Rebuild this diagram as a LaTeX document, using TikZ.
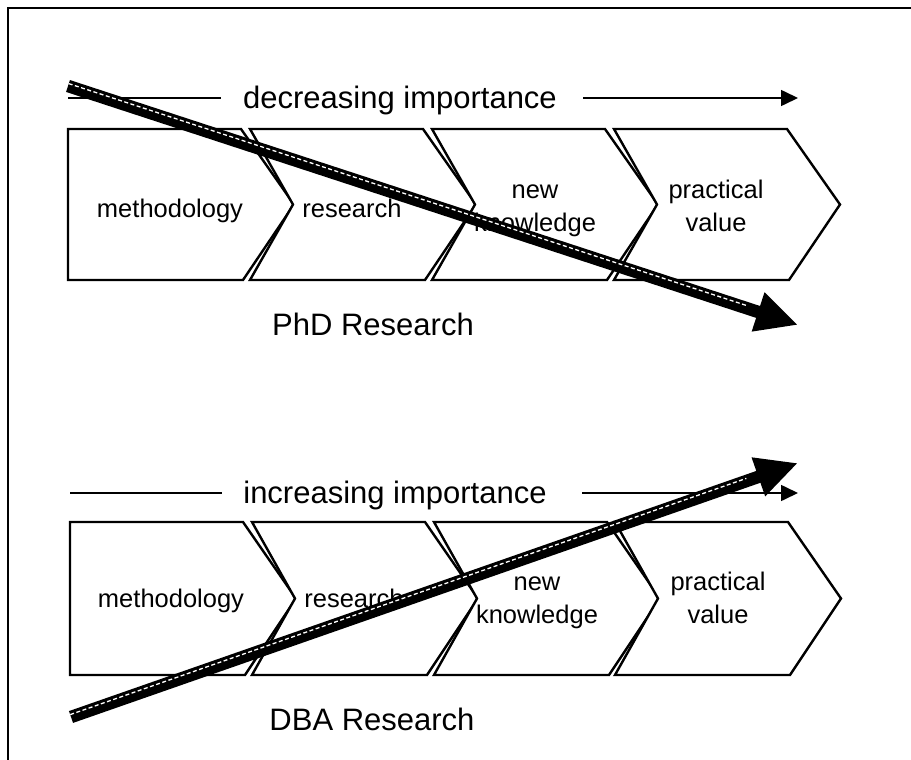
\documentclass[tikz,border=0pt]{standalone}
\usepackage{fontspec}
\setmainfont{Liberation Sans}
\usetikzlibrary{arrows.meta,calc}

\tikzset{
  frameline/.style={line width=2pt},
  chev/.style={draw=black, fill=white, line width=2.4pt, line join=miter},
  boxlabel/.style={font=\fontsize{25.5}{32.5}\selectfont, align=center, inner sep=0pt},
  heading/.style={font=\fontsize{31}{36}\selectfont, inner sep=0pt, anchor=base},
  caption/.style={font=\fontsize{31}{36}\selectfont, inner sep=0pt, anchor=base},
  guide/.style={line width=1.6pt},
  guidetip/.style={-{Triangle[length=17pt,width=16pt]}},
  bigarrow/.style={line width=12.5pt, -{Triangle[length=42pt,width=38pt]}},
  sheen/.style={white, line width=1.3pt, dash pattern=on 4pt off 2.5pt},
}

% one chevron: #1 left x, #2 top y, #3 bottom y, #4 first in row (1) or not (0)
\newcommand{\chevshape}[4]{%
  \pgfmathsetmacro{\cL}{#1}%
  \pgfmathsetmacro{\cR}{#1+173}%
  \pgfmathsetmacro{\cM}{(#2+#3)/2}%
  \ifnum#4=1
    \draw[chev] (\cL,#2) -- (\cR,#2) -- (\cR+53,\cM) -- (\cR+2,#3) -- (\cL,#3) -- cycle;
  \else
    \draw[chev] (\cL,#2) -- (\cR,#2) -- (\cR+53,\cM) -- (\cR+2,#3) -- (\cL,#3) -- (\cL+43,\cM) -- cycle;
  \fi
}

\begin{document}
\begin{tikzpicture}[x=1pt,y=-1pt]
\useasboundingbox (0,0) rectangle (911,760);

% partial frame (top and left edges)
\draw[frameline] (8,770) -- (8,8) -- (920,8);

%------------------------------------------------------------
% upper chain
\node[heading] (dectext) at (400,108) {decreasing importance};
\coordinate (decL0) at (68,98);
\coordinate (decL1) at (221,98);
\coordinate (decR0) at (583,98);
\coordinate (decR1) at (798,98);
\draw[guide] (decL0) -- (decL1);
\draw[guide,guidetip] (decR0) -- (decR1);

\chevshape{68}{129}{280}{1}
\chevshape{250}{129}{280}{0}
\chevshape{432}{129}{280}{0}
\chevshape{614}{129}{280}{0}

% multi-line labels: base anchor sits on the last line
\node[boxlabel, anchor=base] (t1) at (170,217) {methodology};
\node[boxlabel, anchor=base] (t2) at (352,217) {research};
\node[boxlabel, anchor=base] (t3) at (535,231) {new\\knowledge};
\node[boxlabel, anchor=base] (t4) at (716,231) {practical\\value};

\node[caption] (phd) at (373,335) {PhD Research};

% falling arrow
\coordinate (da) at (68,86);
\coordinate (db) at (798,325);
\draw[bigarrow] (da) -- (db);
\draw[sheen] ($(da)+(0.7,-2.4)$) -- ($(da)!0.93!(db)+(0.7,-2.4)$);

%------------------------------------------------------------
% lower chain
\node[heading] (inctext) at (395,503) {increasing importance};
\coordinate (incL0) at (70,493);
\coordinate (incL1) at (222,493);
\coordinate (incR0) at (582,493);
\coordinate (incR1) at (798,493);
\draw[guide] (incL0) -- (incL1);
\draw[guide,guidetip] (incR0) -- (incR1);

\chevshape{70}{522}{675}{1}
\chevshape{252}{522}{675}{0}
\chevshape{434}{522}{675}{0}
\chevshape{615}{522}{675}{0}

\node[boxlabel, anchor=base] (b1) at (171,607) {methodology};
\node[boxlabel, anchor=base] (b2) at (354,607) {research};
\node[boxlabel, anchor=base] (b3) at (537,623) {new\\knowledge};
\node[boxlabel, anchor=base] (b4) at (718,623) {practical\\value};

\node[caption] (dba) at (372,730) {DBA Research};

% rising arrow
\coordinate (ua) at (71,717);
\coordinate (ub) at (798,463);
\draw[bigarrow] (ua) -- (ub);
\draw[sheen] ($(ua)+(-0.8,-2.4)$) -- ($(ua)!0.93!(ub)+(-0.8,-2.4)$);
\end{tikzpicture}
\end{document}
